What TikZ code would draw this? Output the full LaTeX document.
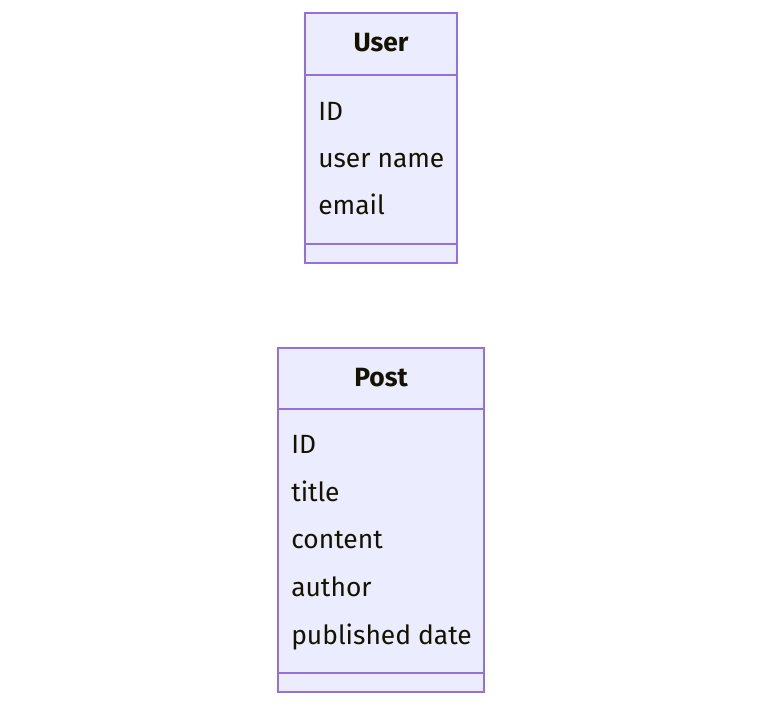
\documentclass[tikz,border=0pt]{standalone}
\usepackage{fontspec}
\setmainfont{Fira Sans}
\usetikzlibrary{fit}
\definecolor{umlfill}{HTML}{ECECFF}
\definecolor{umlborder}{HTML}{9370DB}
\definecolor{umltext}{HTML}{131300}
\tikzset{
  classbox/.style={draw=umlborder, fill=umlfill, line width=1pt, inner sep=0pt},
  classname/.style={anchor=base, inner sep=0pt, text=umltext, font=\bfseries\fontsize{19.8}{24}\selectfont},
  member/.style={anchor=base west, inner sep=0pt, text=umltext, font=\fontsize{19.8}{24}\selectfont},
  divider/.style={draw=umlborder, line width=1pt},
}
\begin{document}
\begin{tikzpicture}[x=0.75pt,y=-0.75pt]
	\useasboundingbox (0,0) rectangle (762,706);
	% class User
	\node[classbox, fit={(305,13) (457,263)}] (user) {};
	\node[classname] (user name) at (381,51.5) {User};
	\draw[divider] (user.west |- 0,75) -- (user.east |- 0,75);
	\draw[divider] (user.west |- 0,244) -- (user.east |- 0,244);
	\node[member] (user id) at (318,120) {ID};
	\node[member] (user uname) at (318,167) {user name};
	\node[member] (user email) at (318,214) {email};
	% class Post
	\node[classbox, fit={(278,348) (484,692)}] (post) {};
	\node[classname] (post name) at (381,386) {Post};
	\draw[divider] (post.west |- 0,409) -- (post.east |- 0,409);
	\draw[divider] (post.west |- 0,673) -- (post.east |- 0,673);
	\node[member] (post id) at (291,453.5) {ID};
	\node[member] (post title) at (291,501) {title};
	\node[member] (post content) at (291,548.5) {content};
	\node[member] (post author) at (291,596.5) {author};
	\node[member] (post date) at (291,644.5) {published date};
\end{tikzpicture}
\end{document}
